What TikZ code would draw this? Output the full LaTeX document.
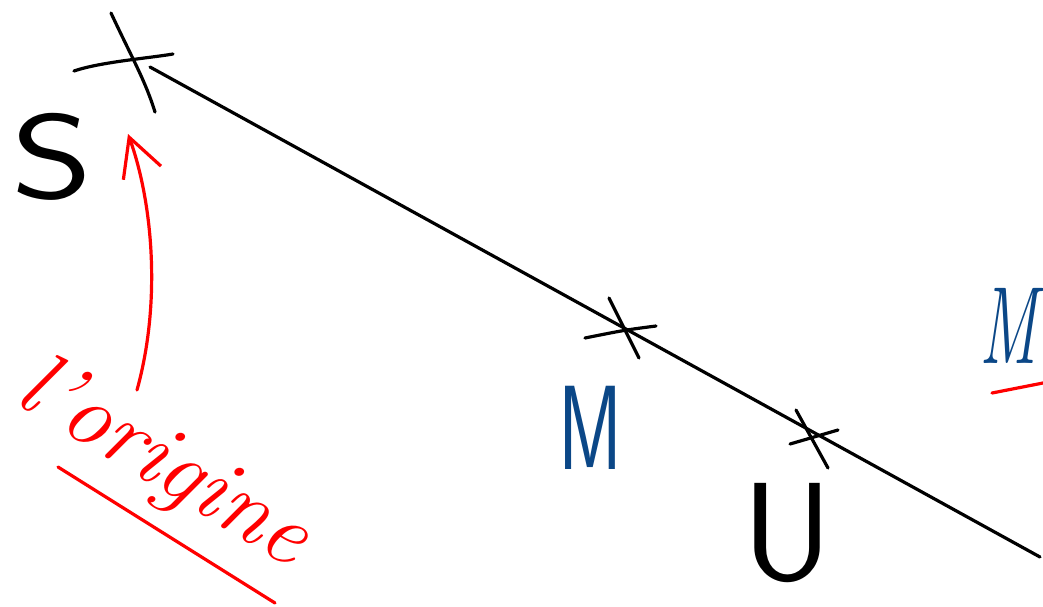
\documentclass[tikz,border=0pt]{standalone}
\usetikzlibrary{arrows.meta}
\definecolor{inkblue}{HTML}{0B4787}
\definecolor{inkred}{HTML}{FF0000}
\tikzset{
  ink/.style={line width=3.2pt, line cap=round, line join=round},
  blackink/.style={ink, draw=black},
  redink/.style={ink, draw=inkred},
  letter/.style={inner sep=0pt, font=\sffamily\fontsize{120}{120}\selectfont},
}
\begin{document}
\begin{tikzpicture}[x=1pt,y=-1pt]
\useasboundingbox (0,0) rectangle (1043,606);
% points on the line
\coordinate (Sp) at (133,60);
\coordinate (Mp) at (625,330);
\coordinate (Up) at (815,433);
\coordinate (lineA) at (150,67);
\coordinate (lineB) at (1040,557);
% main line
\draw[blackink] (lineA) -- (lineB);
% crosses
\coordinate (s1a) at (111,13); \coordinate (s1b) at (155,112);
\coordinate (s2a) at (74,71);  \coordinate (s2b) at (173,54);
\draw[blackink] (s1a) .. controls (Sp) and (145,80) .. (s1b);
\draw[blackink] (s2a) .. controls (100,62) and (150,58) .. (s2b);
\coordinate (m1a) at (609,298); \coordinate (m1b) at (639,358);
\coordinate (m2a) at (585,338); \coordinate (m2b) at (656,326);
\draw[blackink] (m1a) -- (m1b);
\draw[blackink] (m2a) .. controls (Mp) .. (m2b);
\coordinate (u1a) at (796,410); \coordinate (u1b) at (828,468);
\coordinate (u2a) at (790,444); \coordinate (u2b) at (838,430);
\draw[blackink] (u1a) -- (u1b);
\draw[blackink] (u2a) -- (u2b);
% letters
\node[letter, text=black, xscale=1.3] (S) at (52,157) {S};
\node[letter, text=inkblue, xscale=0.65] (M) at (590,428) {M};
\node[letter, text=black, font=\sffamily\fontsize{140}{140}\selectfont] (U) at (788,533) {U};
% right edge label
\node[letter, text=inkblue, font=\itshape\fontsize{110}{110}\selectfont, xscale=0.6] (Mr) at (1008,326) {M};
\coordinate (rulA) at (992,393); \coordinate (rulB) at (1043,383);
\draw[redink] (rulA) -- (rulB);
% l'origine
\node[inner sep=0pt, text=inkred, rotate=-31, font=\itshape\fontsize{92}{92}\selectfont] (orig) at (163,465) {l'origine};
\coordinate (ulA) at (58,467); \coordinate (ulB) at (275,603);
\draw[redink] (ulA) -- (ulB);
% arrow to the origin
\coordinate (arrTail) at (137,390);
\coordinate (arrTip) at (128,134);
\draw[redink, -{Straight Barb[length=38pt,width=40pt,line width=3.2pt]}]
  (arrTail) .. controls (162,300) and (152,200) .. (arrTip);
\end{tikzpicture}
\end{document}
